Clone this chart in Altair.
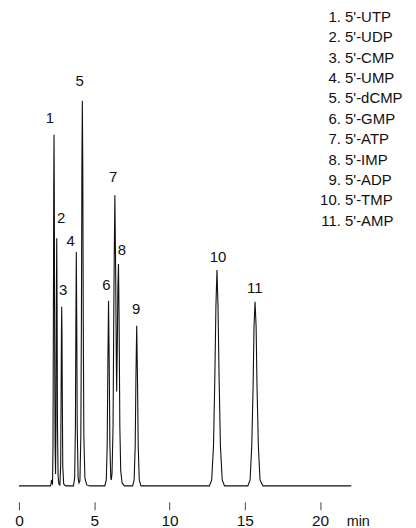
import altair as alt
import pandas as pd

# Chromatogram trace (time in min, detector signal in arbitrary units)
times = [0.0, 2.08, 2.13, 2.16, 2.19, 2.23,
         2.26, 2.29, 2.31, 2.33, 2.35, 2.37, 2.40, 2.43,
         2.46, 2.48, 2.51, 2.53, 2.56, 2.60, 2.65,
         2.72, 2.77, 2.80, 2.82, 2.84, 2.86, 2.88, 2.91, 2.97, 3.10,
         3.62, 3.70, 3.75, 3.78, 3.81, 3.84, 3.87, 3.93, 3.99,
         4.05, 4.11, 4.15, 4.18, 4.21, 4.24, 4.27, 4.31, 4.38, 4.50, 4.70,
         5.70, 5.80, 5.86, 5.91, 5.95, 5.99, 6.04, 6.10, 6.13,
         6.18, 6.25, 6.31, 6.37, 6.42, 6.47, 6.49,
         6.53, 6.57, 6.61, 6.65, 6.70, 6.76, 6.85, 7.00,
         7.55, 7.65, 7.72, 7.77, 7.82, 7.87, 7.92, 7.99, 8.10,
         12.65, 12.80, 12.92, 13.01, 13.08, 13.15, 13.22, 13.29, 13.38, 13.50, 13.65,
         15.20, 15.35, 15.46, 15.55, 15.61, 15.68, 15.75, 15.81, 15.90, 16.01, 16.20,
         22.07]
signal = [0, 0, 2, 6, 3, 2,
          40, 180, 300, 353, 290, 150, 40, 12,
          60, 170, 249, 190, 60, 10, 2,
          1, 20, 90, 150, 180, 150, 90, 20, 2, 0,
          0, 8, 60, 160, 235, 160, 60, 8, 3,
          5, 50, 170, 320, 387, 320, 170, 50, 8, 1, 0,
          0, 6, 40, 130, 186, 130, 40, 8, 6,
          12, 60, 200, 292, 220, 120, 95,
          140, 200, 223, 170, 60, 15, 3, 0,
          0, 6, 40, 110, 161, 110, 40, 6, 0,
          0, 6, 40, 110, 180, 217, 180, 110, 40, 6, 0,
          0, 6, 40, 100, 160, 185, 160, 100, 40, 6, 0,
          0]

# Peak labels
peak_labels = ["1", "2", "3", "4", "5", "6", "7", "8", "9", "10", "11"]
label_time = [2.05, 2.80, 2.93, 3.44, 4.03, 5.80, 6.26, 6.83, 7.78, 13.22, 15.66]
label_height = [370, 269, 197, 246, 407, 202, 310, 237, 178, 230, 199]

# Legend
legend_numbers = ["1.", "2.", "3.", "4.", "5.", "6.", "7.", "8.", "9.", "10.", "11."]
legend_names = ["5'-UTP", "5'-UDP", "5'-CMP", "5'-UMP", "5'-dCMP", "5'-GMP",
                "5'-ATP", "5'-IMP", "5'-ADP", "5'-TMP", "5'-AMP"]

tick_values = [0, 5, 10, 15, 20]
x_domain = [0, 22.07]
y_domain = [0, 479]

FONT = "Liberation Sans"

trace = pd.DataFrame({"t": times, "s": signal})
labels = pd.DataFrame({"t": label_time, "s": label_height, "lab": peak_labels})
one = pd.DataFrame({"a": [0]})

xs = alt.Scale(domain=x_domain, nice=False, zero=False)
ys = alt.Scale(domain=y_domain, nice=False, zero=False)

line = alt.Chart(trace).mark_line(color="#111111", strokeWidth=1.1, clip=False).encode(
    x=alt.X("t:Q", scale=xs,
            axis=alt.Axis(values=tick_values, domain=False, grid=False, tickSize=8,
                          offset=16, labelFontSize=15.5, labelPadding=4, labelFont=FONT,
                          labelColor="#111111", tickColor="#444444", title=None,
                          labelFlush=False, tickWidth=1)),
    y=alt.Y("s:Q", scale=ys, axis=None),
)

peak_text = alt.Chart(labels).mark_text(
    font=FONT, fontSize=15, color="#111111", align="center", baseline="middle"
).encode(
    x=alt.X("t:Q", scale=xs),
    y=alt.Y("s:Q", scale=ys),
    text="lab:N",
)

leg_num = alt.Chart(one).mark_text(
    font=FONT, fontSize=15, color="#111111", align="right", baseline="alphabetic",
    lineBreak="\n", lineHeight=20.5
).encode(x=alt.value(323.5), y=alt.value(12.5), text=alt.value("\n".join(legend_numbers)))

leg_name = alt.Chart(one).mark_text(
    font=FONT, fontSize=15, color="#111111", align="left", baseline="alphabetic",
    lineBreak="\n", lineHeight=20.5
).encode(x=alt.value(327.7), y=alt.value(12.5), text=alt.value("\n".join(legend_names)))

unit = alt.Chart(one).mark_text(
    font=FONT, fontSize=14.5, color="#111111", align="center", baseline="alphabetic"
).encode(x=alt.value(341), y=alt.value(519), text=alt.value("min"))

chart = alt.layer(line, peak_text, leg_num, leg_name, unit).properties(
    width=334, height=479,
    padding={"left": 11, "top": 0, "right": 57, "bottom": 41},
    autosize="none",
).configure_view(stroke=None)

chart.save("out.html", embed_options={"renderer": "svg", "actions": False})
